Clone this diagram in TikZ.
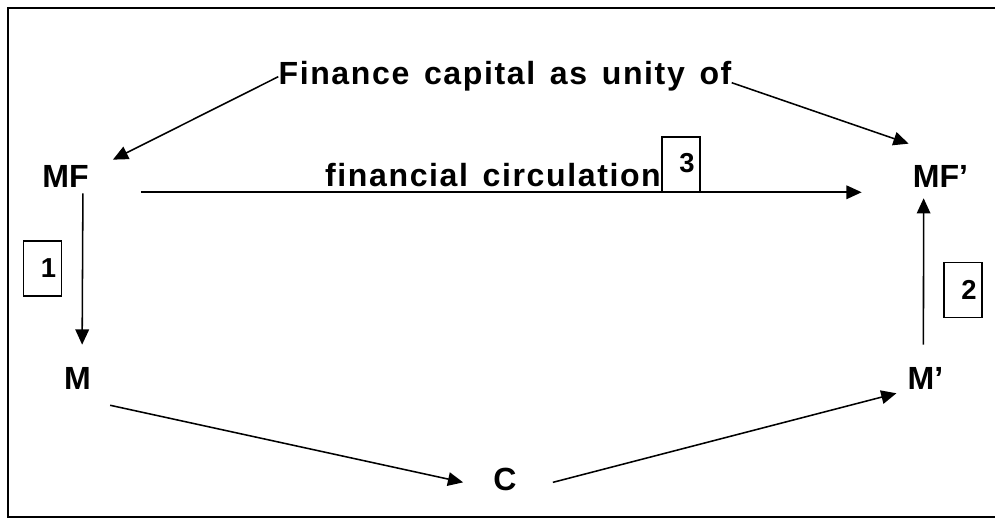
\documentclass[tikz,border=0pt]{standalone}
\usepackage{fontspec}
\setmainfont{Liberation Sans}
\newfontfamily\widefont[LetterSpace=5, WordSpace=1.4]{Liberation Sans}
\usetikzlibrary{arrows.meta, positioning, calc}
\tikzset{
    lbl/.style = {font=\bfseries\fontsize{22.8}{27}\selectfont, inner sep=0pt, anchor=base},
    ttl/.style = {font=\widefont\bfseries\fontsize{22.8}{27}\selectfont, inner sep=0pt, anchor=base},
    numbox/.style = {draw, line width=0.8pt, minimum width=0.95cm, minimum height=1.375cm, inner sep=0pt, font=\bfseries\fontsize{19.5}{22}\selectfont},
    flow/.style = {-{Triangle[length=3.8mm, width=3.4mm]}, line width=1.1pt}
}

\begin{document}
\begin{tikzpicture}
\useasboundingbox (0,0) rectangle (24.875,13);
% Frame
\draw[line width=1.7pt] (24.875,12.8) -- (0.2,12.8) -- (0.2,0.075) -- (24.875,0.075);

% Title lines
\node[ttl] (FIN) at (12.625, 10.875) {Finance capital as unity of};
\node[ttl] (CIRC) at (12.325, 8.325) {financial circulation};

% Circuit
\node[lbl] (MF) at (1.6375, 8.3) {MF};
\node[lbl] (MFp) at (23.5125, 8.3) {MF'};
\node[lbl] (M) at (1.9375, 3.25) {M};
\node[lbl] (Mp) at (23.1375, 3.25) {M'};
\node[lbl] (C) at (12.625, 0.725) {C};

% Numbered boxes
\node[numbox] (n1) at (1.0625, 6.2875) {\hspace*{0.3cm}\raisebox{-0.1cm}{1}};
\node[numbox] (n2) at (24.075, 5.75) {\hspace*{0.3cm}\raisebox{-0.1cm}{2}};
\node[numbox] (n3) at (17.025, 8.8875) {\hspace*{0.3cm}\raisebox{0.08cm}{3}};

% Title -> MF, MF'
\draw[flow] (FIN.west) -- ([xshift=0.6cm, yshift=0.15cm]MF.north east);
\draw[flow] ([yshift=-0.15cm]FIN.east) -- ([xshift=-0.1cm, yshift=0.55cm]MFp.north west);

% MF -> MF'
\draw[flow] ([xshift=1.3cm, yshift=-0.1cm]MF.south east) -- ([xshift=-1.275cm, yshift=-0.1cm]MFp.south west);

% MF -> M
\draw[flow] ([xshift=-0.15cm, yshift=-0.125cm]MF.south east) -- ([xshift=-0.225cm, yshift=0.575cm]M.north east);
% M' -> MF'
\draw[flow] ([xshift=0.4cm, yshift=0.575cm]Mp.north west) -- ([xshift=0.275cm, yshift=-0.25cm]MFp.south west);

% M -> C -> M'
\draw[flow] ([xshift=0.475cm, yshift=-0.375cm]M.south east) -- ([xshift=-0.75cm, yshift=-0.06cm]C.west);
\draw[flow] ([xshift=0.9cm, yshift=-0.06cm]C.east) -- ([xshift=-0.275cm, yshift=-0.075cm]Mp.south west);
\end{tikzpicture}
\end{document}
